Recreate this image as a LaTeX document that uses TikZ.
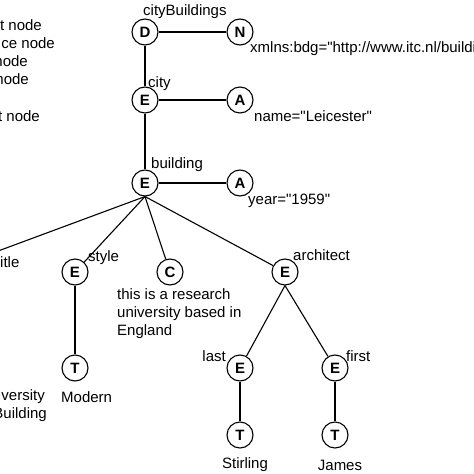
\documentclass[tikz,border=0pt]{standalone}
\usepackage{fontspec}
\setmainfont{Liberation Sans}[Ligatures=TeXOff]
\usepackage{tikz}
\usetikzlibrary{positioning}
\tikzstyle{xnode} = [circle, draw, line width=1.1pt, minimum size=26pt, inner sep=0pt, fill=white, font=\fontsize{15}{15}\selectfont\bfseries]
\tikzstyle{lbl} = [anchor=west, inner sep=0pt, font=\fontsize{15}{18}\selectfont]
\tikzstyle{edge} = [line width=1.1pt]

\begin{document}
\begin{tikzpicture}[x=1pt, y=-1pt]
    \useasboundingbox (0,0) rectangle (474,474);
    \clip (0,0) rectangle (474,474);

    % legend (cut off on the left)
    \node[lbl, anchor=east] (lg1) at (42,25) {t node};
    \node[lbl, anchor=east] (lg2) at (55,43) {ce node};
    \node[lbl, anchor=east] (lg3) at (28,61) {node};
    \node[lbl, anchor=east] (lg4) at (29,79) {node};
    \node[lbl, anchor=east] (lg6) at (40,116) {t node};

    % tree nodes
    \node[xnode] (doc) at (145,32) {D};
    \node[xnode] (ns) at (240,32) {N};
    \node[xnode] (city) at (145,100) {E};
    \node[xnode] (name) at (240,100) {A};
    \node[xnode] (bldg) at (145,183) {E};
    \node[xnode] (year) at (240,183) {A};
    \node[xnode] (style) at (75,272) {E};
    \node[xnode] (descr) at (170,272) {C};
    \node[xnode] (arch) at (285,272) {E};
    \node[xnode] (modern) at (75,368) {T};
    \node[xnode] (last) at (240,368) {E};
    \node[xnode] (first) at (335,368) {E};
    \node[xnode] (stirling) at (240,435) {T};
    \node[xnode] (james) at (335,435) {T};
    \coordinate (title) at (-10,254);

    % edges
    \draw[edge] (doc) -- (ns);
    \draw[edge] (doc) -- (city);
    \draw[edge] (city) -- (name);
    \draw[edge] (city) -- (bldg);
    \draw[edge] (bldg) -- (year);
    \draw[edge] (bldg.south) -- (title);
    \draw[edge] (bldg.south) -- (style);
    \draw[edge] (bldg.south) -- (descr);
    \draw[edge] (bldg.south) -- (arch);
    \draw[edge] (style) -- (modern);
    \draw[edge] (arch.south) -- (last);
    \draw[edge] (arch.south) -- (first);
    \draw[edge] (last) -- (stirling);
    \draw[edge] (first) -- (james);

    % labels
    \node[lbl] (doclbl) at (143,12) {cityBuildings};
    \node[lbl] (nslbl) at (250,49) {xmlns:bdg="http://www.itc.nl/buildings"};
    \node[lbl] (citylbl) at (148,84) {city};
    \node[lbl] (namelbl) at (254,116) {name="Leicester"};
    \node[lbl] (bldglbl) at (151,165) {building};
    \node[lbl] (yearlbl) at (248,201) {year="1959"};
    \node[lbl] (titlelbl) at (0,262) {itle};
    \node[lbl] (stylelbl) at (88,258) {style};
    \node[lbl] (archlbl) at (293,255) {architect};
    \node[lbl, anchor=north west, align=left] (descrlbl) at (117,288)
        {this is a research\\university based in\\England};
    \node[lbl, anchor=east] (unilbl) at (45,397) {versity};
    \node[lbl, anchor=east] (blbl) at (47,415) {Building};
    \node[lbl] (modernlbl) at (61,397) {Modern};
    \node[lbl, anchor=east] (lastlbl) at (226,356) {last};
    \node[lbl] (firstlbl) at (346,356) {first};
    \node[lbl, anchor=center] (stirlbl) at (245,465) {Stirling};
    \node[lbl, anchor=center] (jameslbl) at (340,465) {James};
\end{tikzpicture}
\end{document}
